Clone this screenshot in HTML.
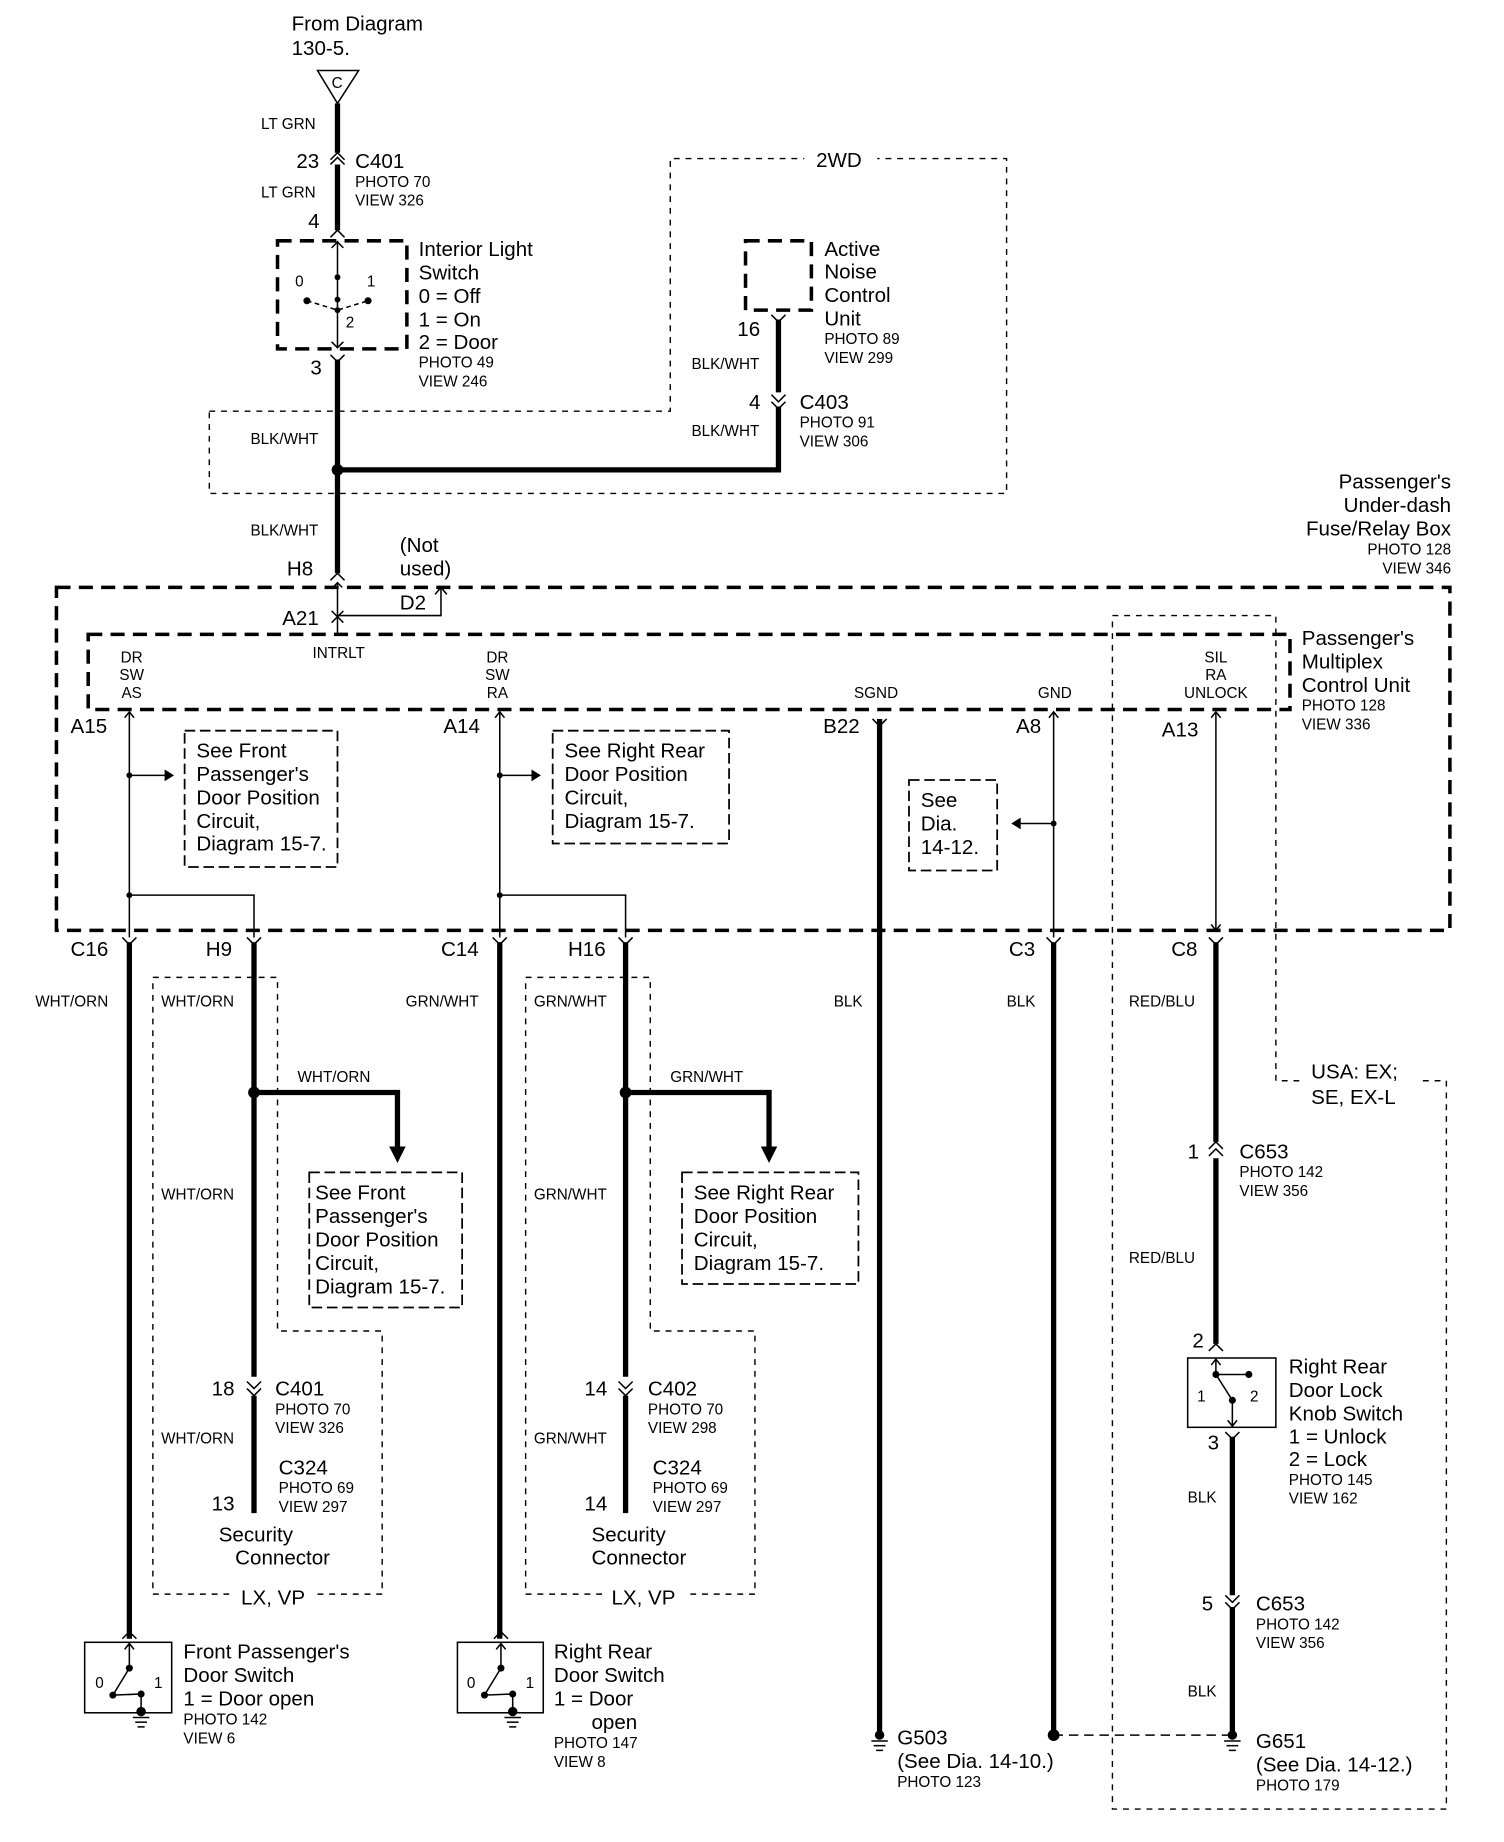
<!DOCTYPE html>
<html><head><meta charset="utf-8"><style>
html,body{margin:0;padding:0;background:#fff}
svg{display:block}
text{font-family:"Liberation Sans",Arial,sans-serif;fill:#000}
.L{font-size:17.5px}
.S{font-size:13px}
.w{stroke:#000;stroke-width:4.5;fill:none}
.t{stroke:#000;stroke-width:1.3;fill:none}
.d{stroke:#000;stroke-width:1.2;fill:none;stroke-dasharray:5,5}
.D{stroke:#000;stroke-width:3;fill:none;stroke-dasharray:12,7}
.b{stroke:#000;stroke-width:1.5;fill:none;stroke-dasharray:9,4}
</style></head><body>
<svg width="1504" height="1842" viewBox="0 0 1279 1568" preserveAspectRatio="none">
<defs>
<g id="gnd"><line x1="-7" y1="0" x2="7" y2="0" class="t"/><line x1="-5" y1="4" x2="5" y2="4" class="t"/><line x1="-3" y1="8" x2="3" y2="8" class="t"/></g>
</defs>
<text class="L" x="248" y="26">From Diagram</text>
<text class="L" x="248" y="47">130-5.</text>
<path d="M270,60 L305,60 L287,88 Z" class="t" stroke-width="1.5"/>
<text class="S" x="282" y="75">C</text>
<line x1="287" y1="88" x2="287" y2="130" class="w"/>
<line x1="287" y1="140" x2="287" y2="196" class="w"/>
<path d="M281,140 L287,134 L293,140" class="t" stroke-width="2.5"/>
<path d="M281,136 L287,130 L293,136" class="t" stroke-width="2.5"/>
<text class="S" x="222" y="110">LT GRN</text>
<text class="L" x="252" y="143">23</text>
<text class="L" x="302" y="143">C401</text>
<text class="S" x="302" y="159">PHOTO 70</text>
<text class="S" x="302" y="175">VIEW 326</text>
<text class="S" x="222" y="168">LT GRN</text>
<text class="L" x="262" y="194">4</text>
<path d="M281,202 L287,196 L293,202" class="t" stroke-width="3"/>
<rect x="236" y="205" width="110" height="92" class="D"/>
<line x1="287" y1="205" x2="287" y2="296" class="t" stroke-width="2"/>
<path d="M282,211 L287,206 L292,211 M282,291 L287,296 L292,291" class="t"/>
<circle cx="287" cy="236" r="2.5"/><circle cx="287" cy="255" r="2.5"/><circle cx="287" cy="264" r="2.5"/>
<circle cx="261" cy="256" r="3"/><circle cx="313" cy="256" r="3"/>
<path d="M261,256 L287,264 L313,256" class="t" stroke-dasharray="4,3"/>
<text class="S" x="251" y="244">0</text><text class="S" x="312" y="244">1</text><text class="S" x="294" y="279">2</text>
<text class="L" x="356" y="218">Interior Light</text>
<text class="L" x="356" y="238">Switch</text>
<text class="L" x="356" y="258">0 = Off</text>
<text class="L" x="356" y="278">1 = On</text>
<text class="L" x="356" y="297">2 = Door</text>
<text class="S" x="356" y="313">PHOTO 49</text>
<text class="S" x="356" y="329">VIEW 246</text>
<text class="L" x="264" y="319">3</text>
<path d="M281,302 L287,308 L293,302" class="t" stroke-width="3"/>
<line x1="287" y1="306" x2="287" y2="488" class="w"/>
<path d="M178,350 L570,350 L570,135 L856,135 L856,420 L178,420 Z" class="d"/>
<rect x="684" y="128" width="62" height="16" fill="#fff"/>
<text class="L" x="694" y="142">2WD</text>
<rect x="634" y="205" width="56" height="59" class="D"/>
<text class="L" x="701" y="218">Active</text>
<text class="L" x="701" y="237">Noise</text>
<text class="L" x="701" y="257">Control</text>
<text class="L" x="701" y="277">Unit</text>
<text class="S" x="701" y="293">PHOTO 89</text>
<text class="S" x="701" y="309">VIEW 299</text>
<text class="L" x="627" y="286">16</text>
<path d="M656,268 L662,274 L668,268" class="t" stroke-width="3"/>
<line x1="662" y1="272" x2="662" y2="334" class="w"/>
<path d="M656,336 L662,342 L668,336 M656,342 L662,348 L668,342" class="t" stroke-width="2.5"/>
<line x1="662" y1="346" x2="662" y2="402" class="w"/>
<text class="S" x="588" y="314">BLK/WHT</text>
<text class="L" x="637" y="348">4</text>
<text class="L" x="680" y="348">C403</text>
<text class="S" x="680" y="364">PHOTO 91</text>
<text class="S" x="680" y="380">VIEW 306</text>
<text class="S" x="588" y="371">BLK/WHT</text>
<text class="S" x="213" y="378">BLK/WHT</text>
<line x1="287" y1="400" x2="664" y2="400" class="w"/>
<circle cx="287" cy="400" r="5"/>
<text class="S" x="213" y="456">BLK/WHT</text>
<text class="L" x="244" y="490">H8</text>
<path d="M281,494 L287,488 L293,494" class="t" stroke-width="3"/>
<text class="L" x="340" y="470">(Not</text>
<text class="L" x="340" y="490">used)</text>
<line x1="287" y1="496" x2="287" y2="540" class="t"/>
<path d="M283,500 L287,496 L291,500" class="t"/>
<path d="M287,524 L375,524 L375,500 M370,506 L375,500 L380,506" class="t"/>
<text class="L" x="340" y="519">D2</text>
<text class="L" x="240" y="532">A21</text>
<path d="M282,520 L287,525 L292,520 M282,530 L287,525 L292,530" class="t"/>
<text class="L" x="1234" y="416" text-anchor="end">Passenger's</text>
<text class="L" x="1234" y="436" text-anchor="end">Under-dash</text>
<text class="L" x="1234" y="456" text-anchor="end">Fuse/Relay Box</text>
<text class="S" x="1234" y="472" text-anchor="end">PHOTO 128</text>
<text class="S" x="1234" y="488" text-anchor="end">VIEW 346</text>
<rect x="48" y="500" width="1185" height="292" class="D"/>
<rect x="75" y="540" width="1022" height="64" class="D"/>
<path d="M946,524 L1085,524 L1085,920 L1230,920 L1230,1540 L946,1540 Z" class="d"/>
<rect x="1105" y="908" width="100" height="40" fill="#fff"/>
<text class="L" x="1115" y="918">USA: EX;</text>
<text class="L" x="1115" y="940">SE, EX-L</text>
<text class="S" x="112" y="564" text-anchor="middle">DR</text><text class="S" x="112" y="579" text-anchor="middle">SW</text><text class="S" x="112" y="594" text-anchor="middle">AS</text>
<text class="S" x="288" y="560" text-anchor="middle">INTRLT</text>
<text class="S" x="423" y="564" text-anchor="middle">DR</text><text class="S" x="423" y="579" text-anchor="middle">SW</text><text class="S" x="423" y="594" text-anchor="middle">RA</text>
<text class="S" x="745" y="594" text-anchor="middle">SGND</text>
<text class="S" x="897" y="594" text-anchor="middle">GND</text>
<text class="S" x="1034" y="564" text-anchor="middle">SIL</text><text class="S" x="1034" y="579" text-anchor="middle">RA</text><text class="S" x="1034" y="594" text-anchor="middle">UNLOCK</text>
<text class="L" x="1107" y="549">Passenger's</text>
<text class="L" x="1107" y="569">Multiplex</text>
<text class="L" x="1107" y="589">Control Unit</text>
<text class="S" x="1107" y="605">PHOTO 128</text>
<text class="S" x="1107" y="621">VIEW 336</text>
<text class="L" x="60" y="624">A15</text>
<text class="L" x="377" y="624">A14</text>
<text class="L" x="700" y="624">B22</text>
<text class="L" x="864" y="624">A8</text>
<text class="L" x="988" y="627">A13</text>
<path d="M110,606 L110,762 L216,762 L216,798 M106,611 L110,606 L114,611" class="t"/>
<path d="M425,606 L425,762 L532,762 L532,798 M421,611 L425,606 L429,611" class="t"/>
<path d="M110,660 L146,660" class="t"/><path d="M140,655 L148,660 L140,665 Z"/><circle cx="110" cy="660" r="2.5"/>
<path d="M425,660 L458,660" class="t"/><path d="M452,655 L460,660 L452,665 Z"/><circle cx="425" cy="660" r="2.5"/>
<circle cx="110" cy="762" r="2.5"/><circle cx="425" cy="762" r="2.5"/>
<line x1="110" y1="762" x2="110" y2="798" class="t"/>
<line x1="425" y1="762" x2="425" y2="798" class="t"/>
<rect x="157" y="622" width="130" height="116" class="b"/>
<text class="L" x="167" y="645">See Front</text><text class="L" x="167" y="665">Passenger's</text><text class="L" x="167" y="685">Door Position</text><text class="L" x="167" y="705">Circuit,</text><text class="L" x="167" y="724">Diagram 15-7.</text>
<rect x="470" y="622" width="150" height="96" class="b"/>
<text class="L" x="480" y="645">See Right Rear</text><text class="L" x="480" y="665">Door Position</text><text class="L" x="480" y="685">Circuit,</text><text class="L" x="480" y="705">Diagram 15-7.</text>
<rect x="773" y="664" width="75" height="77" class="b"/>
<text class="L" x="783" y="687">See</text><text class="L" x="783" y="707">Dia.</text><text class="L" x="783" y="727">14-12.</text>
<path d="M896,701 L865,701" class="t"/><path d="M868,696 L860,701 L868,706 Z"/><circle cx="896" cy="701" r="2.5"/>
<path d="M896,606 L896,798 M892,611 L896,606 L900,611" class="t"/>
<path d="M1034,606 L1034,792 M1030,611 L1034,606 L1038,611 M1030,787 L1034,792 L1038,787" class="t"/>
<line x1="748" y1="612" x2="748" y2="1476" class="w"/>
<path d="M742,612 L748,618 L754,612" class="t" stroke-width="3"/>
<text class="L" x="60" y="814">C16</text>
<text class="L" x="175" y="814">H9</text>
<text class="L" x="375" y="814">C14</text>
<text class="L" x="483" y="814">H16</text>
<text class="L" x="858" y="814">C3</text>
<text class="L" x="996" y="814">C8</text>
<path d="M104,798 L110,804 L116,798 M210,798 L216,804 L222,798 M419,798 L425,804 L431,798 M526,798 L532,804 L538,798 M890,798 L896,804 L902,798 M1028,798 L1034,804 L1040,798" class="t" stroke-width="3"/>
<line x1="110" y1="802" x2="110" y2="1395" class="w"/>
<line x1="216" y1="802" x2="216" y2="1172" class="w"/>
<line x1="216" y1="1188" x2="216" y2="1288" class="w"/>
<line x1="425" y1="802" x2="425" y2="1395" class="w"/>
<line x1="532" y1="802" x2="532" y2="1172" class="w"/>
<line x1="532" y1="1188" x2="532" y2="1288" class="w"/>
<line x1="896" y1="802" x2="896" y2="1476" class="w"/>
<line x1="1034" y1="802" x2="1034" y2="972" class="w"/>
<line x1="1034" y1="986" x2="1034" y2="1144" class="w"/>
<path d="M1028,978 L1034,972 L1040,978 M1028,984 L1034,978 L1040,984" class="t" stroke-width="2.5"/>
<path d="M210,1176 L216,1182 L222,1176 M210,1182 L216,1188 L222,1182 M526,1176 L532,1182 L538,1176 M526,1182 L532,1188 L538,1182" class="t" stroke-width="2.5"/>
<text class="S" x="30" y="857">WHT/ORN</text>
<text class="S" x="137" y="857">WHT/ORN</text>
<text class="S" x="345" y="857">GRN/WHT</text>
<text class="S" x="454" y="857">GRN/WHT</text>
<text class="S" x="709" y="857">BLK</text>
<text class="S" x="856" y="857">BLK</text>
<text class="S" x="960" y="857">RED/BLU</text>
<path d="M130,832 L236,832 L236,1133 L325,1133 L325,1357 L130,1357 Z" class="d"/>
<path d="M447,832 L553,832 L553,1133 L642,1133 L642,1357 L447,1357 Z" class="d"/>
<rect x="195" y="1348" width="75" height="18" fill="#fff"/><rect x="512" y="1348" width="75" height="18" fill="#fff"/>
<text class="L" x="205" y="1366">LX, VP</text>
<text class="L" x="520" y="1366">LX, VP</text>
<circle cx="216" cy="930" r="5"/><circle cx="532" cy="930" r="5"/>
<path d="M216,930 L338,930 L338,978" class="w"/><path d="M331,976 L338,990 L345,976 Z"/>
<path d="M532,930 L654,930 L654,978" class="w"/><path d="M647,976 L654,990 L661,976 Z"/>
<text class="S" x="253" y="921">WHT/ORN</text>
<text class="S" x="570" y="921">GRN/WHT</text>
<rect x="263" y="998" width="130" height="115" class="b"/>
<text class="L" x="268" y="1021">See Front</text><text class="L" x="268" y="1041">Passenger's</text><text class="L" x="268" y="1061">Door Position</text><text class="L" x="268" y="1081">Circuit,</text><text class="L" x="268" y="1101">Diagram 15-7.</text>
<rect x="580" y="998" width="150" height="95" class="b"/>
<text class="L" x="590" y="1021">See Right Rear</text><text class="L" x="590" y="1041">Door Position</text><text class="L" x="590" y="1061">Circuit,</text><text class="L" x="590" y="1081">Diagram 15-7.</text>
<text class="S" x="137" y="1021">WHT/ORN</text><text class="S" x="137" y="1229">WHT/ORN</text>
<text class="S" x="454" y="1021">GRN/WHT</text><text class="S" x="454" y="1229">GRN/WHT</text>
<text class="L" x="180" y="1188">18</text><text class="L" x="234" y="1188">C401</text><text class="S" x="234" y="1204">PHOTO 70</text><text class="S" x="234" y="1220">VIEW 326</text>
<text class="L" x="237" y="1255">C324</text><text class="S" x="237" y="1271">PHOTO 69</text><text class="S" x="237" y="1287">VIEW 297</text>
<text class="L" x="180" y="1286">13</text>
<text class="L" x="186" y="1312">Security</text><text class="L" x="200" y="1332">Connector</text>
<text class="L" x="497" y="1188">14</text><text class="L" x="551" y="1188">C402</text><text class="S" x="551" y="1204">PHOTO 70</text><text class="S" x="551" y="1220">VIEW 298</text>
<text class="L" x="555" y="1255">C324</text><text class="S" x="555" y="1271">PHOTO 69</text><text class="S" x="555" y="1287">VIEW 297</text>
<text class="L" x="497" y="1286">14</text>
<text class="L" x="503" y="1312">Security</text><text class="L" x="503" y="1332">Connector</text>
<g>
<path d="M104,1395 L110,1389 L116,1395" class="t" stroke-width="3"/>
<rect x="72" y="1398" width="74" height="60" class="t" stroke-width="3"/>
<path d="M110,1399 L110,1420 M106,1404 L110,1399 L114,1404 M110,1420 L96,1443 M96,1443 L120,1442 M120,1442 L120,1458" class="t" stroke-width="1.8"/>
<circle cx="110" cy="1420" r="3"/><circle cx="96" cy="1443" r="3"/><circle cx="120" cy="1442" r="3"/><circle cx="120" cy="1457" r="4"/>
<text class="S" x="81" y="1437">0</text><text class="S" x="131" y="1437">1</text>
<use href="#gnd" x="120" y="1462"/>
</g>
<text class="L" x="156" y="1412">Front Passenger's</text><text class="L" x="156" y="1432">Door Switch</text><text class="L" x="156" y="1452">1 =  Door open</text>
<text class="S" x="156" y="1468">PHOTO 142</text><text class="S" x="156" y="1484">VIEW 6</text>
<g transform="translate(316,0)">
<path d="M104,1395 L110,1389 L116,1395" class="t" stroke-width="3"/>
<rect x="73" y="1398" width="73" height="60" class="t" stroke-width="3"/>
<path d="M110,1399 L110,1420 M106,1404 L110,1399 L114,1404 M110,1420 L96,1443 M96,1443 L120,1442 M120,1442 L120,1458" class="t" stroke-width="1.8"/>
<circle cx="110" cy="1420" r="3"/><circle cx="96" cy="1443" r="3"/><circle cx="120" cy="1442" r="3"/><circle cx="120" cy="1457" r="4"/>
<text class="S" x="81" y="1437">0</text><text class="S" x="131" y="1437">1</text>
<use href="#gnd" x="120" y="1462"/>
</g>
<text class="L" x="471" y="1412">Right Rear</text><text class="L" x="471" y="1432">Door Switch</text><text class="L" x="471" y="1452">1 = Door</text><text class="L" x="503" y="1472">open</text>
<text class="S" x="471" y="1488">PHOTO 147</text><text class="S" x="471" y="1504">VIEW 8</text>
<circle cx="748" cy="1477" r="4"/><use href="#gnd" x="748" y="1482"/>
<text class="L" x="763" y="1485">G503</text><text class="L" x="763" y="1505">(See Dia. 14-10.)</text><text class="S" x="763" y="1521">PHOTO 123</text>
<circle cx="896" cy="1477" r="5"/>
<line x1="896" y1="1477" x2="1048" y2="1477" class="t" stroke-dasharray="8,5"/>
<circle cx="1048" cy="1477" r="4"/><use href="#gnd" x="1048" y="1482"/>
<text class="L" x="1068" y="1488">G651</text><text class="L" x="1068" y="1508">(See Dia. 14-12.)</text><text class="S" x="1068" y="1524">PHOTO 179</text>
<text class="L" x="1010" y="986">1</text><text class="L" x="1054" y="986">C653</text><text class="S" x="1054" y="1002">PHOTO 142</text><text class="S" x="1054" y="1018">VIEW 356</text>
<text class="S" x="960" y="1075">RED/BLU</text>
<text class="L" x="1014" y="1147">2</text>
<path d="M1028,1150 L1034,1144 L1040,1150" class="t" stroke-width="3"/>
<rect x="1010" y="1156" width="75" height="59" class="t" stroke-width="3"/>
<path d="M1034,1157 L1034,1170 L1048,1192 L1048,1214 M1030,1162 L1034,1157 L1038,1162 M1044,1209 L1048,1214 L1052,1209 M1034,1170 L1062,1170" class="t" stroke-width="1.8"/>
<circle cx="1034" cy="1170" r="3"/><circle cx="1062" cy="1170" r="3"/><circle cx="1048" cy="1192" r="3"/>
<text class="S" x="1018" y="1193">1</text><text class="S" x="1063" y="1193">2</text>
<text class="L" x="1096" y="1169">Right Rear</text><text class="L" x="1096" y="1189">Door Lock</text><text class="L" x="1096" y="1209">Knob Switch</text><text class="L" x="1096" y="1229">1 = Unlock</text><text class="L" x="1096" y="1248">2 = Lock</text>
<text class="S" x="1096" y="1264">PHOTO 145</text><text class="S" x="1096" y="1280">VIEW 162</text>
<text class="L" x="1027" y="1234">3</text>
<path d="M1042,1219 L1048,1225 L1054,1219" class="t" stroke-width="3"/>
<line x1="1048" y1="1223" x2="1048" y2="1358" class="w"/>
<path d="M1042,1358 L1048,1364 L1054,1358 M1042,1364 L1048,1370 L1054,1364" class="t" stroke-width="2.5"/>
<line x1="1048" y1="1368" x2="1048" y2="1475" class="w"/>
<text class="S" x="1010" y="1279">BLK</text>
<text class="L" x="1022" y="1371">5</text><text class="L" x="1068" y="1371">C653</text><text class="S" x="1068" y="1387">PHOTO 142</text><text class="S" x="1068" y="1403">VIEW 356</text>
<text class="S" x="1010" y="1444">BLK</text>
</svg>
</body></html>
